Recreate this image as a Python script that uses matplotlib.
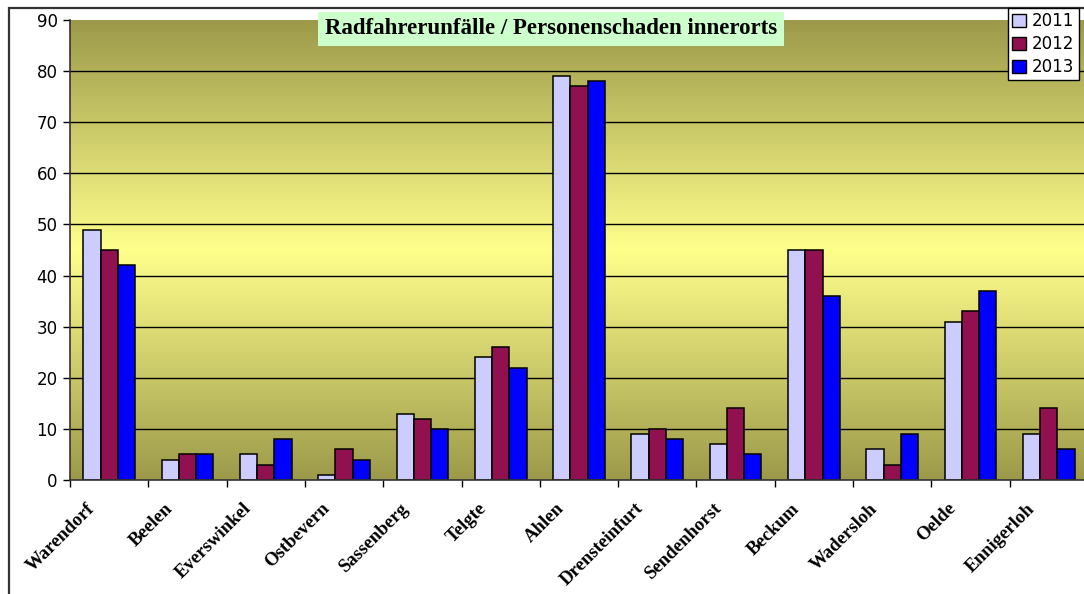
import numpy as np
import matplotlib
matplotlib.use("Agg")
import matplotlib.pyplot as plt
import matplotlib.patches as mpatches
from matplotlib.colors import LinearSegmentedColormap
import matplotlib.transforms as mtransforms

# data
orte = ["Warendorf", "Beelen", "Everswinkel", "Ostbevern", "Sassenberg", "Telgte",
        "Ahlen", "Drensteinfurt", "Sendenhorst", "Beckum", "Wadersloh", "Oelde", "Ennigerloh"]
jahre = ["2011", "2012", "2013"]
werte_2011 = [49, 4, 5, 1, 13, 24, 79, 9, 7, 45, 6, 31, 9]
werte_2012 = [45, 5, 3, 6, 12, 26, 77, 10, 14, 45, 3, 33, 14]
werte_2013 = [42, 5, 8, 4, 10, 22, 78, 8, 5, 36, 9, 37, 6]
farben = ["#ccccff", "#901050", "#0000ff"]
titel = "Radfahrerunfälle / Personenschaden innerorts"

W, H = 1084, 594
fig = plt.figure(figsize=(W / 100, H / 100), dpi=100)
fig.patch.set_facecolor("white")

# outer chart border
fig.add_artist(mpatches.Rectangle((9 / W, -0.1), 1.2, 1 - 7.5 / H + 0.1,
                                  transform=fig.transFigure, fill=False,
                                  edgecolor="#333333", linewidth=1.6))

ax = fig.add_axes([70 / W, 114 / H, 1018 / W, 460 / H])
n = len(orte)
ax.set_xlim(-0.5, n - 0.5)
ax.set_ylim(0, 90)

# gradient background: olive - light yellow - olive
cmap = LinearSegmentedColormap.from_list("bg", ["#9c9a4a", "#ffff8c", "#9c9a4a"])
grad = np.linspace(0, 1, 256).reshape(-1, 1)
ax.imshow(grad, cmap=cmap, aspect="auto", extent=(-0.5, n - 0.5, 0, 90),
          origin="lower", zorder=0)

for y in range(10, 90, 10):
    ax.axhline(y, color="black", linewidth=1, zorder=1)

x = np.arange(n)
bw = 0.22
for k, (werte, farbe) in enumerate(zip([werte_2011, werte_2012, werte_2013], farben)):
    ax.bar(x + (k - 1) * bw, werte, width=bw, color=farbe, edgecolor="black",
           linewidth=1.1, zorder=2)

for s in ["top", "right"]:
    ax.spines[s].set_visible(False)
ax.spines["left"].set_linewidth(1.2)
ax.spines["left"].set_color("#333333")
ax.spines["bottom"].set_linewidth(1.2)
ax.spines["bottom"].set_color("#333333")

ax.set_yticks(range(0, 91, 10))
ax.tick_params(axis="y", length=5, width=1, pad=4, labelsize=12, colors="black")
ax.set_xticks(np.arange(-0.5, n, 1.0))
ax.set_xticklabels([])
ax.tick_params(axis="x", length=5, width=1)

off = mtransforms.offset_copy(ax.transData, fig=fig, x=-17, y=-26, units="dots")
for i, name in enumerate(orte):
    ax.text(i, 0, name, transform=off, rotation=45, rotation_mode="anchor",
            ha="right", va="center", fontsize=13.5, fontweight="bold",
            family="Liberation Serif", clip_on=False)

fig.text(551 / W, 1 - 29 / H, titel, ha="center", va="center", fontsize=16.5,
         fontweight="bold", family="Liberation Serif",
         bbox=dict(boxstyle="square,pad=0.3", facecolor="#ccffcc", edgecolor="none"))

handles = [mpatches.Patch(facecolor=c, edgecolor="black", linewidth=1, label=j)
           for c, j in zip(farben, jahre)]
leg = fig.legend(handles=handles, loc="upper left",
                 bbox_to_anchor=(1008 / W, 1 - 8 / H), fontsize=12,
                 frameon=True, fancybox=False, framealpha=1, borderpad=0.25,
                 handlelength=0.8, handleheight=0.8, handletextpad=0.4,
                 labelspacing=0.3, borderaxespad=0)
leg.get_frame().set_edgecolor("black")
leg.get_frame().set_linewidth(1)

fig.savefig("out.png", dpi=100)
